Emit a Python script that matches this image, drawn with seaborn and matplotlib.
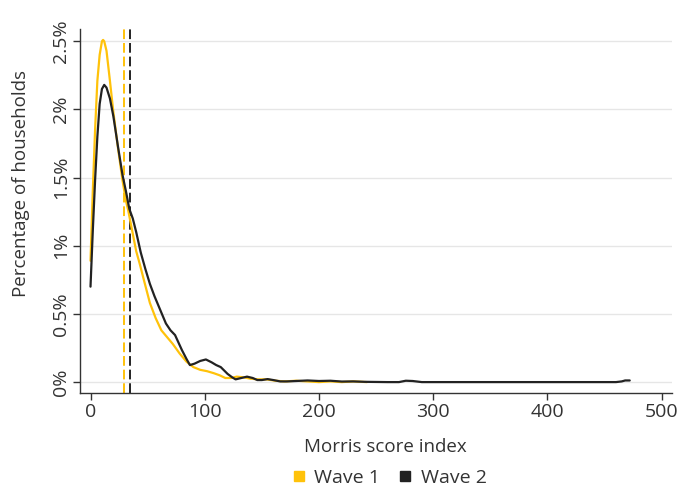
import matplotlib
matplotlib.use("Agg")
import matplotlib.pyplot as plt
from matplotlib.lines import Line2D
import seaborn as sns
import pandas as pd
import numpy as np

# ---- data ----
wave1_x = [0, 2, 4, 6, 8, 10, 11, 12, 14, 17, 20, 24, 28, 31, 33, 36, 40, 43, 47, 52,
           57, 62, 67, 72, 78, 84, 90, 96, 102, 108, 113, 118, 123, 128, 134, 140, 147,
           154, 162, 170, 180, 190, 200, 210, 220, 230, 242]
wave1_y = [0.89, 1.40, 1.85, 2.21, 2.40, 2.50, 2.51, 2.50, 2.43, 2.21, 1.98, 1.72, 1.48,
           1.33, 1.26, 1.13, 0.96, 0.87, 0.74, 0.58, 0.47, 0.38, 0.33, 0.28, 0.21, 0.15,
           0.11, 0.09, 0.08, 0.065, 0.05, 0.03, 0.03, 0.04, 0.035, 0.025, 0.02, 0.02,
           0.01, 0.005, 0.01, 0.005, 0.0, 0.005, 0.0, 0.005, 0.0]

wave2_x = [0, 2, 4, 6, 8, 10, 12, 14, 17, 20, 24, 28, 31, 34, 37, 40, 44, 48, 52, 56,
           61, 66, 70, 74, 77, 80, 84, 87, 91, 96, 101, 106, 110, 114, 117, 120, 124,
           127, 132, 137, 142, 146, 150, 155, 160, 166, 172, 180, 190, 200, 210, 220,
           230, 240, 250, 260, 270, 276, 282, 290, 300, 320, 340, 360, 380, 400, 420,
           440, 460, 465, 468, 472]
wave2_y = [0.70, 1.11, 1.48, 1.80, 2.04, 2.15, 2.18, 2.16, 2.08, 1.95, 1.73, 1.52, 1.40,
           1.27, 1.20, 1.10, 0.95, 0.83, 0.72, 0.63, 0.53, 0.43, 0.38, 0.345, 0.29,
           0.235, 0.17, 0.125, 0.135, 0.155, 0.166, 0.145, 0.125, 0.11, 0.085, 0.06,
           0.035, 0.02, 0.03, 0.04, 0.03, 0.015, 0.015, 0.022, 0.015, 0.005, 0.005,
           0.008, 0.012, 0.008, 0.01, 0.004, 0.005, 0.002, 0.001, 0.0, 0.0, 0.01, 0.008,
           0.0, 0.0, 0.0, 0.0, 0.0, 0.0, 0.0, 0.0, 0.0, 0.0, 0.005, 0.012, 0.012]

mean_wave1 = 29
mean_wave2 = 34.5

series_names = ["Wave 1", "Wave 2"]
x_ticks = [0, 100, 200, 300, 400, 500]
y_ticks = [0, 0.5, 1, 1.5, 2, 2.5]

colors = {"Wave 1": "#FFC20A", "Wave 2": "#222222"}

# ---- style ----
sns.set_theme(style="white")
plt.rcParams["font.family"] = ["Open Sans", "DejaVu Sans"]

df = pd.concat([
    pd.DataFrame({"score": wave1_x, "pct": wave1_y, "wave": "Wave 1"}),
    pd.DataFrame({"score": wave2_x, "pct": wave2_y, "wave": "Wave 2"}),
])

fig = plt.figure(figsize=(6.87, 4.86), dpi=100)
ax = fig.add_axes([80 / 687, (486 - 393) / 486, (672 - 80) / 687, (393 - 29) / 486])

for yt in y_ticks:
    ax.axhline(yt, color="#e6e6e6", lw=1.0, zorder=0)

sns.lineplot(data=df, x="score", y="pct", hue="wave", palette=colors,
             linewidth=1.6, ax=ax, legend=False, sort=False, zorder=3)

ax.axvline(mean_wave1, color=colors["Wave 1"], lw=1.4, dashes=(5, 2), zorder=2)
ax.axvline(mean_wave2, color=colors["Wave 2"], lw=1.4, dashes=(5, 2), zorder=2)

ax.set_xlim(-9.2, 509)
ax.set_ylim(-0.08, 2.59)
ax.set_xticks(x_ticks)
ax.set_yticks(y_ticks)
ax.set_xticklabels([str(t) for t in x_ticks], fontsize=14, color="#333333")
ax.set_yticklabels([f"{t:g}%" for t in y_ticks], fontsize=14, color="#333333",
                   rotation=90, va="center")
ax.tick_params(axis="both", which="both", direction="out", length=5, width=1,
               color="#333333", left=True, bottom=True)
ax.tick_params(axis="x", pad=2)
ax.tick_params(axis="y", pad=2)

for s in ["top", "right"]:
    ax.spines[s].set_visible(False)
for s in ["left", "bottom"]:
    ax.spines[s].set_color("#333333")
    ax.spines[s].set_linewidth(1.0)

ax.set_xlabel("Morris score index", fontsize=13.5, color="#333333")
ax.set_ylabel("Percentage of households", fontsize=13.5, color="#333333")
ax.xaxis.set_label_coords((385 - 80) / 592, -(447 - 393) / 364, transform=ax.transAxes)
ax.yaxis.set_label_coords(-(80 - 21) / 592, (393 - 183) / 364, transform=ax.transAxes)
ax.xaxis.label.set_va("center")
ax.yaxis.label.set_va("center")

handles = [Line2D([], [], marker="s", linestyle="none", markersize=7.5,
                  markerfacecolor=colors[n], markeredgecolor=colors[n]) for n in series_names]
fig.legend(handles, series_names, loc="center", ncol=2, frameon=False,
           bbox_to_anchor=(388 / 687, 1 - 478 / 486), fontsize=14, handletextpad=0.3,
           columnspacing=0.8, handlelength=1.0, labelcolor="#333333",
           borderpad=0, borderaxespad=0)

fig.savefig("out.png", dpi=100)
